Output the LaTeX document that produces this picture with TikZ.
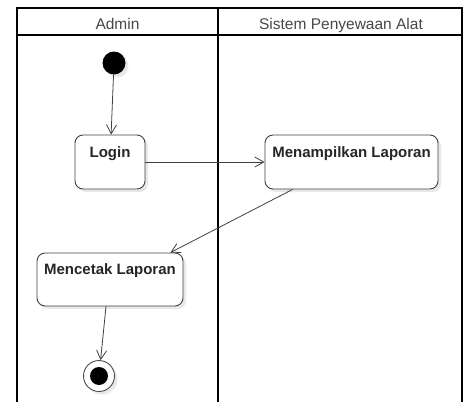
\documentclass[tikz,border=0pt]{standalone}
\usepackage{fontspec}
\setmainfont{Liberation Sans}
\usetikzlibrary{arrows.meta,shadows}
\begin{document}
\begin{tikzpicture}[x=1pt,y=-1pt,
  lane/.style={line width=1.6pt,black},
  lanehead/.style={font=\fontsize{15.5}{17}\selectfont,text=black!72,inner sep=0pt,anchor=base},
  shade/.style={drop shadow={opacity=0.18,shadow xshift=3pt,shadow yshift=-3pt}},
  activity/.style={draw=black!75,line width=0.9pt,rounded corners=8pt,fill=white,shade,inner sep=0pt},
  actlabel/.style={font=\bfseries\fontsize{15}{17}\selectfont,text=black!85,inner sep=0pt,anchor=base},
  flow/.style={draw=black!75,line width=0.8pt,-{Straight Barb[length=9pt,width=10pt]}}
]
\useasboundingbox (0,0) rectangle (464,402);

% swimlane frame
\draw[lane] (17,403) -- (17,8) -- (462,8) -- (462,403);
\draw[lane,line width=1.3pt] (17,35) -- (462,35);
\draw[lane] (218,8) -- (218,403);
\node[lanehead] (hadmin) at (117.5,29.5) {Admin};
\node[lanehead] (hsys) at (341,29.5) {Sistem Penyewaan Alat};

% initial node
\node[circle,fill=black,minimum size=23pt,inner sep=0pt,shade] (start) at (114,63) {};

% activities
\node[activity,minimum width=70pt,minimum height=54pt] (login) at (110,162) {};
\node[actlabel] (loginT) at ([yshift=-23pt]login.north) {Login};

\node[activity,minimum width=173pt,minimum height=54pt] (tampil) at (351.5,162) {};
\node[actlabel] (tampilT) at ([yshift=-22.5pt]tampil.north) {Menampilkan Laporan};

\node[activity,minimum width=146pt,minimum height=53pt] (cetak) at (110,279.5) {};
\node[actlabel] (cetakT) at ([yshift=-22pt]cetak.north) {Mencetak Laporan};

% final node
\node[circle,draw=black!70,line width=0.9pt,fill=white,minimum size=31pt,inner sep=0pt,shade] (end) at (99,376) {};
\node[circle,fill=black,minimum size=18pt,inner sep=0pt] (endDot) at (end.center) {};

% control flows
\draw[flow] (start) -- (login);
\draw[flow] (login) -- (tampil);
\draw[flow] ([xshift=28pt]tampil.south west) -- ([xshift=-13pt]cetak.north east);
\draw[flow] ([xshift=-4pt]cetak.south) -- (end);
\end{tikzpicture}
\end{document}
